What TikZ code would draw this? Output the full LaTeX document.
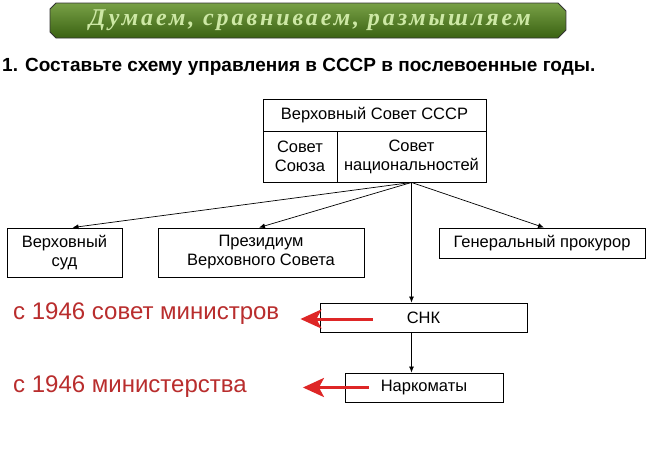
\documentclass[tikz,border=0pt]{standalone}
\usepackage{fontspec}
\setmainfont{Liberation Sans}
\newfontfamily\bannerfont[LetterSpace=12]{Liberation Serif}
\usetikzlibrary{arrows.meta}
\definecolor{bannerlight}{RGB}{120,160,70}
\definecolor{bannerdark}{RGB}{58,98,18}
\definecolor{bannertext}{RGB}{205,232,165}
\definecolor{notered}{RGB}{185,45,45}
\definecolor{arrowred}{RGB}{222,38,38}
\tikzset{
  box/.style={draw, line width=0.9pt, inner sep=0pt, align=center,
    font=\fontsize{16.5}{19}\selectfont},
  link/.style={-{Latex[length=6pt,width=5pt]}, line width=0.7pt},
  redlink/.style={-{Stealth[length=21pt,width=19pt,inset=5pt]}, line width=3pt, color=arrowred},
  note/.style={anchor=base west, inner sep=0pt, color=notered,
    font=\fontsize{24}{26}\selectfont}
}
\begin{document}
\begin{tikzpicture}[x=1pt,y=-1pt]
   \useasboundingbox (0,0) rectangle (648,471);
   \fill[white] (0,0) rectangle (648,471);
   % banner
   \shadedraw[top color=bannerlight, bottom color=bannerdark, draw=black!80, line width=0.8pt]
     (56,3) -- (558,3) -- (566,11) -- (566,30) -- (558,38) -- (56,38) -- (50,32) -- (50,9) -- cycle;
   \node[color=bannertext, font=\bannerfont\bfseries\itshape\fontsize{24}{26}\selectfont] (banner) at (310,20) {Думаем, сравниваем, размышляем};
   \node[anchor=base west, inner sep=0pt, font=\bfseries\fontsize{19}{22}\selectfont] (task) at (2,71) {1. Составьте схему управления в СССР в послевоенные годы.};

   % Верховный Совет
   \node[box, minimum width=223pt, minimum height=32pt] (vs) at (374.5,115) {Верховный Совет СССР};
   \node[box, minimum width=74pt, minimum height=51pt] (ss) at (300,156.5) {Совет\\Союза};
   \node[box, minimum width=149pt, minimum height=51pt] (sn) at (411.5,156.5) {Совет\\национальностей};

   \node[box, minimum width=115pt, minimum height=49pt] (sud) at (64.5,252.5) {Верховный\\суд};
   \node[box, minimum width=206pt, minimum height=49pt] (prez) at (261,252.5) {Президиум\\Верховного Совета};
   \node[box, minimum width=206pt, minimum height=30pt] (prok) at (542,243) {Генеральный прокурор};
   \node[box, minimum width=207pt, minimum height=29pt] (snk) at (423.5,317.5) {СНК};
   \node[box, minimum width=158pt, minimum height=29pt] (nark) at (424,387.5) {Наркоматы};

   \draw[link] (sn.south) -- ([xshift=8pt]sud.north);
   \draw[link] (sn.south) -- ([xshift=-2pt]prez.north);
   \draw[link] (sn.south) -- ([xshift=2pt]prok.north);
   \draw[link] (sn.south) -- (sn.south |- snk.north);
   \draw[link] (snk.south -| sn.south) -- (sn.south |- nark.north);

   % изменения 1946
   \node[note] (sm) at (13,319) {с 1946 совет министров};
   \node[note] (min) at (13,392) {с 1946 министерства};
   \coordinate (snkred) at ([xshift=53pt,yshift=-1.5pt]snk.west);
   \coordinate (narkred) at ([xshift=24pt]nark.west);
   \draw[redlink] (snkred) -- ([xshift=21pt]snkred -| sm.east);
   \draw[redlink] (narkred) -- ([xshift=56pt]narkred -| min.east);
\end{tikzpicture}
\end{document}
